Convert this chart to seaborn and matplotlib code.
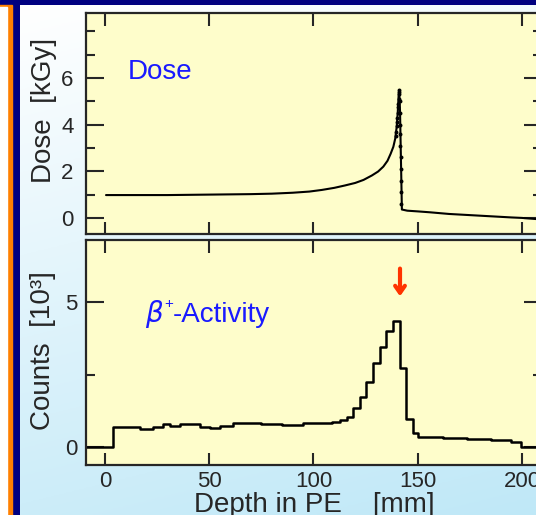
import seaborn as sns
import matplotlib.pyplot as plt
from matplotlib.ticker import MultipleLocator
from matplotlib.patches import Rectangle
import numpy as np

# depth dose curve: depth [mm], dose [kGy]
dose_depth = [0.5, 10, 20, 30, 40, 50, 60, 70, 80, 90, 98, 104, 110, 115, 120, 124, 128,
              131, 133.5, 135.5, 137, 138.3, 139.2, 139.9, 140.4, 140.8, 141.1, 141.5, 141.8,
              142.1, 142.4, 145, 150, 156, 165, 175, 185, 195, 200, 207, 212]
dose_val = [0.98, 0.98, 0.98, 0.98, 0.99, 1.0, 1.01, 1.02, 1.04, 1.08, 1.13, 1.2, 1.29, 1.39,
            1.5, 1.63, 1.82, 1.99, 2.2, 2.45, 2.75, 3.05, 3.4, 3.9, 4.5, 5.2, 5.49, 4.6, 3.2,
            1.8, 0.36, 0.31, 0.28, 0.24, 0.17, 0.12, 0.07, 0.02, 0.0, -0.05, -0.07]

# single measured points around the Bragg peak
peak_depth = [139.5, 139.7, 139.9, 140.1, 140.2, 140.4, 140.5, 140.6, 140.8, 140.9, 141.0,
              141.1, 141.3, 141.4, 141.5, 141.6, 141.7, 141.8, 141.9, 142.0, 142.1, 142.2]
peak_dose = [3.5, 3.7, 3.95, 4.1, 4.3, 4.5, 4.75, 4.9, 5.1, 5.3, 5.4, 5.5, 5.0, 4.5, 4.0,
             3.6, 3.1, 2.6, 2.1, 1.6, 1.1, 0.6]

# beta+ activity histogram: left edge of each step [mm], counts [10^3]
act_depth = [-12, 4.0, 16.8, 23.2, 28.0, 31.2, 36.0, 45.6, 50.4, 55.2, 61.6, 75.0, 85.0, 95.0,
             109.0, 112.7, 115.9, 119.1, 122.3, 125.4, 128.6, 131.8, 135.0, 138.2, 141.4,
             144.6, 147.8, 150.3, 162.3, 173.5, 185.0, 194.5, 199.7, 215.0]
act_counts = [0.0, 0.69, 0.61, 0.70, 0.78, 0.72, 0.78, 0.70, 0.64, 0.72, 0.82, 0.79, 0.76,
              0.82, 0.88, 0.93, 1.02, 1.33, 1.71, 2.25, 2.89, 3.44, 4.01, 4.34, 2.71, 0.95,
              0.47, 0.36, 0.31, 0.26, 0.24, 0.18, 0.0, 0.0]

x_ticks = [0, 50, 100, 150, 200]
dose_ticks = [0, 2, 4, 6]
count_ticks = [0, 5]
peak_mark = 141.5

sns.set_style("ticks")
plt.rcParams['font.family'] = ['Liberation Sans', 'DejaVu Sans']

W, H = 536, 515
fig = plt.figure(figsize=(W / 100, H / 100), dpi=100)

# slide background: navy frame, orange box on the left, white-to-cyan panel
bg = fig.add_axes([0, 0, 1, 1], zorder=-5)
bg.set_xlim(0, W)
bg.set_ylim(H, 0)
bg.axis('off')
bg.add_patch(Rectangle((0, 0), W, H, color='#000080'))
bg.add_patch(Rectangle((-2, 5), 14, H, color='#ff8000'))
bg.add_patch(Rectangle((-2, 7), 9, H, color='white'))
gy, gx = np.mgrid[0:1:200j, 0:1:200j]
t = np.clip(0.8 * gy + 0.2 * gx, 0, 1)[..., None]
grad = (1 - t) * np.array([1.0, 1.0, 1.0]) + t * np.array([0.75, 0.91, 0.97])
bg.imshow(grad, extent=(20, W, H, 5), aspect='auto', zorder=1)

yellow = '#fefdcb'
ax1 = fig.add_axes([86 / W, 1 - 234 / H, 456 / W, 221 / H])
ax2 = fig.add_axes([86 / W, 1 - 465 / H, 456 / W, 225 / H])

sns.lineplot(x=dose_depth, y=dose_val, ax=ax1, color='black', lw=1.5)
sns.scatterplot(x=peak_depth, y=peak_dose, ax=ax1, color='black', s=8, linewidth=0)
sns.lineplot(x=act_depth, y=act_counts, ax=ax2, color='black', lw=1.8, drawstyle='steps-post')

for ax in (ax1, ax2):
    ax.set_facecolor(yellow)
    ax.set_xlim(-9.1, 209.6)
    ax.set_xticks(x_ticks)
    for s in ax.spines.values():
        s.set_linewidth(1.6)
        s.set_visible(True)
    ax.tick_params(which='both', direction='in', top=True, right=True, width=1.5)
    ax.tick_params(axis='x', which='major', length=9)
    ax.tick_params(axis='y', which='major', length=13, labelsize=16)
    ax.tick_params(axis='y', which='minor', length=6.5)

ax1.set_ylim(-0.69, 8.79)
ax1.set_yticks(dose_ticks)
ax1.yaxis.set_minor_locator(MultipleLocator(1))
ax1.tick_params(axis='x', labelbottom=False)
ax1.tick_params(axis='y', pad=9)
ax1.set_ylabel('Dose  [kGy]', fontsize=20)
ax1.yaxis.set_label_coords(-0.064, 0.56)
ax1.text(11, 5.96, 'Dose', color='#1a1aff', fontsize=20, va='baseline', ha='left')

ax2.set_ylim(-0.62, 7.14)
ax2.set_yticks(count_ticks)
ax2.yaxis.set_minor_locator(MultipleLocator(2.5))
ax2.tick_params(axis='y', pad=6)
ax2.tick_params(axis='x', labelsize=16, pad=4)
ax2.set_ylabel('Counts  [10³]', fontsize=20)
ax2.yaxis.set_label_coords(-0.066, 0.507)
ax2.set_xlabel('Depth in PE    [mm]', fontsize=20)
ax2.xaxis.set_label_coords(0.501, -0.12)
ax2.text(19.2, 4.32, r'$\beta$', color='#1a1aff', fontsize=20, va='baseline', ha='left')
ax2.text(28.3, 4.8, '+', color='#1a1aff', fontsize=11, va='baseline', ha='left')
ax2.text(32.3, 4.32, '-Activity', color='#1a1aff', fontsize=20, va='baseline', ha='left')
ax2.annotate('', xy=(peak_mark, 5.1), xytext=(peak_mark, 6.25),
             arrowprops=dict(arrowstyle='->,head_length=0.5,head_width=0.35',
                             color='#ff3300', lw=3))

fig.savefig('out.png', dpi=100)
